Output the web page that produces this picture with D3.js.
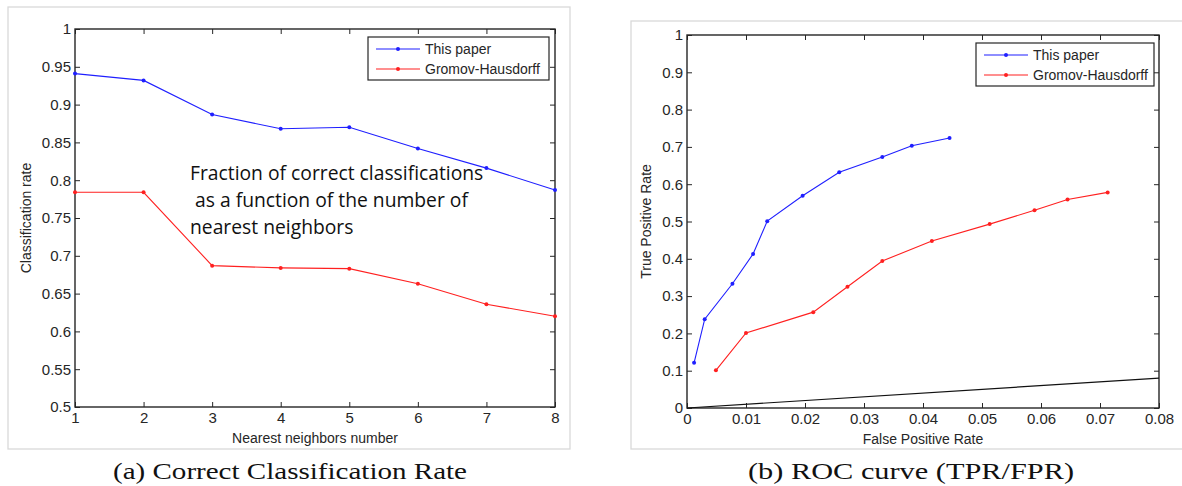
<!DOCTYPE html>
<html>
<head>
<meta charset="utf-8">
<script src="https://cdn.jsdelivr.net/npm/d3@7"></script>
<style>
  body { margin: 0; background: #fff; }
  .tick text { font-family: "Liberation Sans", Arial, sans-serif; font-size: 15px; fill: #262626; }
  .tick line { stroke: #262626; }
  .domain { display: none; }
  .axis-label { font-family: "Liberation Sans", Arial, sans-serif; font-size: 14px; fill: #262626; }
  .legend text { font-family: "Liberation Sans", Arial, sans-serif; font-size: 14px; fill: #262626; }
  .caption { font-family: "Liberation Serif", "Times New Roman", serif; font-size: 24px; fill: #111; }
  .note { font-family: "Open Sans", sans-serif; font-size: 19.3px; fill: #111; }
</style>
</head>
<body>
<script>
/* data */

var neighbors = [1, 2, 3, 4, 5, 6, 7, 8];
var thisPaperRate = [0.941, 0.932, 0.887, 0.868, 0.870, 0.842, 0.816, 0.787];
var gromovRate = [0.784, 0.784, 0.687, 0.684, 0.683, 0.663, 0.636, 0.620];
var rateTicks = [0.5, 0.55, 0.6, 0.65, 0.7, 0.75, 0.8, 0.85, 0.9, 0.95, 1];

var thisPaperFpr = [0.0012, 0.0030, 0.0077, 0.0112, 0.0136, 0.0196, 0.0258, 0.0331, 0.0381, 0.0445];
var thisPaperTpr = [0.121, 0.238, 0.333, 0.413, 0.501, 0.569, 0.632, 0.673, 0.703, 0.724];
var gromovFpr = [0.0049, 0.0100, 0.0214, 0.0272, 0.0331, 0.0415, 0.0513, 0.0589, 0.0645, 0.0713];
var gromovTpr = [0.101, 0.201, 0.257, 0.325, 0.394, 0.448, 0.493, 0.530, 0.559, 0.578];
var chanceFpr = [0, 0.08];
var chanceTpr = [0, 0.08];
var fprTicks = [0, 0.01, 0.02, 0.03, 0.04, 0.05, 0.06, 0.07, 0.08];
var tprTicks = [0, 0.1, 0.2, 0.3, 0.4, 0.5, 0.6, 0.7, 0.8, 0.9, 1];

var seriesNames = ['This paper', 'Gromov-Hausdorff'];
var seriesColours = ['#1f1fff', '#ff2020'];


/* canvas */

var width = 1182;
var height = 486;

var svg = d3.select('body').
append('svg').
attr('width', width).
attr('height', height);


/* one panel: frame, axes, lines, legend */

function drawPanel(opt) {
  var g = svg.append('g');

  g.append('rect').
  attr('x', opt.frame[0]).
  attr('y', opt.frame[1]).
  attr('width', opt.frame[2]).
  attr('height', opt.frame[3]).
  attr('fill', 'none').
  attr('stroke', '#d9d9d9').
  attr('stroke-width', 1.3);

  var x = d3.scaleLinear().domain(opt.xDomain).range([opt.left, opt.right]);
  var y = d3.scaleLinear().domain(opt.yDomain).range([opt.bottom, opt.top]);

  g.append('g').
  attr('transform', 'translate(0,' + opt.bottom + ')').
  call(d3.axisBottom(x).tickValues(opt.xTicks).tickSize(-5).tickPadding(5).tickFormat(d3.format('~g')));

  g.append('g').
  attr('transform', 'translate(' + opt.left + ',0)').
  call(d3.axisLeft(y).tickValues(opt.yTicks).tickSize(-5).tickPadding(4).tickFormat(d3.format('~g')));

  g.append('g').
  attr('transform', 'translate(0,' + opt.top + ')').
  call(d3.axisTop(x).tickValues(opt.xTicks).tickSize(-5).tickFormat(''));

  g.append('g').
  attr('transform', 'translate(' + opt.right + ',0)').
  call(d3.axisRight(y).tickValues(opt.yTicks).tickSize(-5).tickFormat(''));

  g.append('rect').
  attr('x', opt.left).
  attr('y', opt.top).
  attr('width', opt.right - opt.left).
  attr('height', opt.bottom - opt.top).
  attr('fill', 'none').
  attr('stroke', '#262626').
  attr('stroke-width', 1.4);

  var line = d3.line().
  x(function (d) {return x(d[0]);}).
  y(function (d) {return y(d[1]);});

  if (opt.extra) {
    g.append('path').
    datum(d3.zip(opt.extra[0], opt.extra[1])).
    attr('d', line).
    attr('fill', 'none').
    attr('stroke', '#111').
    attr('stroke-width', 1.2);
  }

  opt.series.forEach(function (s, i) {
    var pts = d3.zip(s[0], s[1]);
    g.append('path').
    datum(pts).
    attr('d', line).
    attr('fill', 'none').
    attr('stroke', seriesColours[i]).
    attr('stroke-width', 1.1);

    g.selectAll(null).
    data(pts).
    enter().
    append('circle').
    attr('cx', function (d) {return x(d[0]);}).
    attr('cy', function (d) {return y(d[1]);}).
    attr('r', 2).
    attr('fill', seriesColours[i]);
  });

  // axis labels
  g.append('text').
  attr('class', 'axis-label').
  attr('text-anchor', 'middle').
  attr('x', (opt.left + opt.right) / 2).
  attr('y', opt.bottom + 36).
  text(opt.xLabel);

  g.append('text').
  attr('class', 'axis-label').
  attr('text-anchor', 'middle').
  attr('transform', 'translate(' + opt.yLabelX + ',' + (opt.top + opt.bottom) / 2 + ') rotate(-90)').
  text(opt.yLabel);

  // legend
  var lg = g.append('g').
  attr('class', 'legend').
  attr('transform', 'translate(' + opt.legend[0] + ',' + opt.legend[1] + ')');

  lg.append('rect').
  attr('width', opt.legend[2]).
  attr('height', 43).
  attr('fill', '#fff').
  attr('stroke', '#262626').
  attr('stroke-width', 1.2);

  seriesNames.forEach(function (name, i) {
    var ly = 12 + i * 20;
    lg.append('line').
    attr('x1', 8).
    attr('x2', 52).
    attr('y1', ly).
    attr('y2', ly).
    attr('stroke', seriesColours[i]).
    attr('stroke-width', 1.1);
    lg.append('circle').
    attr('cx', 30).
    attr('cy', ly).
    attr('r', 2).
    attr('fill', seriesColours[i]);
    lg.append('text').
    attr('x', 57).
    attr('y', ly + 5).
    text(name);
  });

  // caption
  svg.append('text').
  attr('class', 'caption').
  attr('text-anchor', 'middle').
  attr('x', opt.caption[0]).
  attr('y', 479).
  attr('textLength', opt.caption[1]).
  attr('lengthAdjust', 'spacingAndGlyphs').
  text(opt.captionText);

  return { x: x, y: y, g: g };
}


/* (a) classification rate */

var a = drawPanel({
  frame: [8, 7, 562, 442],
  left: 75, right: 555, top: 29, bottom: 407,
  xDomain: [1, 8], yDomain: [0.5, 1],
  xTicks: neighbors, yTicks: rateTicks,
  series: [[neighbors, thisPaperRate], [neighbors, gromovRate]],
  xLabel: 'Nearest neighbors number',
  yLabel: 'Classification rate',
  yLabelX: 31,
  legend: [368, 37, 181],
  caption: [290, 354],
  captionText: '(a) Correct Classification Rate'
});

var note = a.g.append('text').
attr('class', 'note').
attr('x', 190).
attr('y', 180);

['Fraction of correct classifications', ' as a function of the number of', 'nearest neighbors'].forEach(function (t, i) {
  note.append('tspan').
  attr('x', 190).
  attr('dy', i === 0 ? 0 : 27).
  attr('xml:space', 'preserve').
  text(t);
});


/* (b) ROC curve */

drawPanel({
  frame: [631, 21, 600, 428],
  left: 687, right: 1159, top: 35, bottom: 408,
  xDomain: [0, 0.08], yDomain: [0, 1],
  xTicks: fprTicks, yTicks: tprTicks,
  series: [[thisPaperFpr, thisPaperTpr], [gromovFpr, gromovTpr]],
  extra: [chanceFpr, chanceTpr],
  xLabel: 'False Positive Rate',
  yLabel: 'True Positive Rate',
  yLabelX: 651,
  legend: [976, 43, 178],
  caption: [911, 326],
  captionText: '(b) ROC curve (TPR/FPR)'
});
</script>
</body>
</html>
